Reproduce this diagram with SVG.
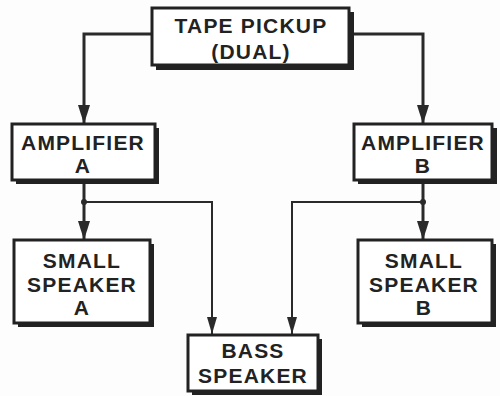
<svg xmlns="http://www.w3.org/2000/svg" width="500" height="396" viewBox="0 0 500 396">
<style>
.box{fill:#fff;stroke:#222;stroke-width:3}
.sh{fill:#222}
.t{font-family:"Liberation Sans",Arial,sans-serif;font-weight:bold;font-size:21px;fill:#222;text-anchor:middle;letter-spacing:1.2px}
.w{fill:none;stroke:#2a2a2a;stroke-width:3}
.n{fill:none;stroke:#2a2a2a;stroke-width:2}
</style>
<defs>
<marker id="ah" markerUnits="userSpaceOnUse" markerWidth="20" markerHeight="14" refX="19" refY="7" orient="auto" viewBox="0 0 20 14">
<path d="M0,1 L19,7 L0,13 Z" fill="#2a2a2a"/>
</marker>
<marker id="ahs" markerUnits="userSpaceOnUse" markerWidth="18" markerHeight="12" refX="17" refY="6" orient="auto" viewBox="0 0 18 12">
<path d="M0,1 L17,6 L0,11 Z" fill="#2a2a2a"/>
</marker>
</defs>
<rect width="500" height="396" fill="#fdfdfd"/>
<g id="connectors">
<path class="w" d="M152,34 H84 V124" marker-end="url(#ah)"/>
<path class="w" d="M350,34 H423 V124" marker-end="url(#ah)"/>
<path class="w" d="M84,180 V240" marker-end="url(#ah)"/>
<path class="w" d="M423,180 V240" marker-end="url(#ah)"/>
<path class="n" d="M84,202 H212 V334" marker-end="url(#ahs)"/>
<path class="n" d="M423,202 H292 V334" marker-end="url(#ahs)"/>
<circle cx="84" cy="202" r="3" fill="#2a2a2a"/>
<circle cx="423" cy="202" r="3" fill="#2a2a2a"/>
</g>
<g id="tape">
<rect class="sh" x="156" y="12" width="198" height="58"/>
<rect class="box" x="152" y="8" width="197" height="57"/>
<text class="t" x="251" y="33">TAPE  PICKUP</text>
<text class="t" x="251" y="59">(DUAL)</text>
</g>
<g id="ampA">
<rect class="sh" x="16" y="128" width="143" height="56"/>
<rect class="box" x="12" y="124" width="143" height="56"/>
<text class="t" x="83" y="150">AMPLIFIER</text>
<text class="t" x="83" y="173">A</text>
</g>
<g id="ampB">
<rect class="sh" x="358" y="128" width="139" height="56"/>
<rect class="box" x="354" y="124" width="138" height="56"/>
<text class="t" x="423" y="150">AMPLIFIER</text>
<text class="t" x="423" y="173">B</text>
</g>
<g id="spkA">
<rect class="sh" x="18" y="244" width="136" height="83"/>
<rect class="box" x="14" y="240" width="136" height="83"/>
<text class="t" x="82" y="268">SMALL</text>
<text class="t" x="82" y="292">SPEAKER</text>
<text class="t" x="82" y="315">A</text>
</g>
<g id="spkB">
<rect class="sh" x="362" y="244" width="134" height="83"/>
<rect class="box" x="358" y="240" width="134" height="83"/>
<text class="t" x="424" y="268">SMALL</text>
<text class="t" x="424" y="292">SPEAKER</text>
<text class="t" x="424" y="315">B</text>
</g>
<g id="bass">
<rect class="sh" x="192" y="339" width="130" height="56"/>
<rect class="box" x="188" y="335" width="130" height="56"/>
<text class="t" x="253" y="358">BASS</text>
<text class="t" x="253" y="383">SPEAKER</text>
</g>
</svg>
